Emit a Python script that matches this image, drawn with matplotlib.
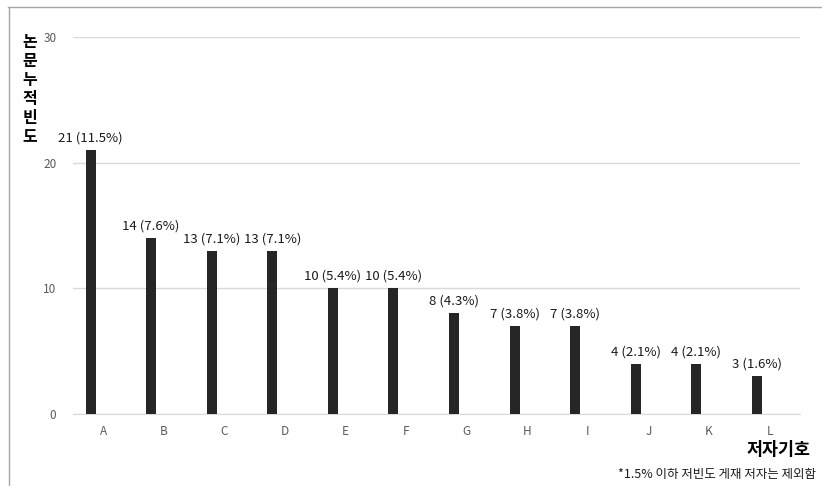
import matplotlib
matplotlib.use("Agg")
import matplotlib.pyplot as plt
from matplotlib.lines import Line2D

plt.rcParams['font.family'] = ['Noto Sans CJK KR', 'DejaVu Sans']

categories = ['A', 'B', 'C', 'D', 'E', 'F', 'G', 'H', 'I', 'J', 'K', 'L']
counts = [21, 14, 13, 13, 10, 10, 8, 7, 7, 4, 4, 3]
percents = ['11.5%', '7.6%', '7.1%', '7.1%', '5.4%', '5.4%', '4.3%', '3.8%', '3.8%', '2.1%', '2.1%', '1.6%']
yticks = [0, 10, 20, 30]
ylabel = '논문누적빈도'

fig = plt.figure(figsize=(8.22, 4.86), dpi=100)
ax = fig.add_axes([73/822, 1-414/486, (800-73)/822, (414-37)/486])

x = list(range(len(categories)))
bx = [i - 0.21 for i in x]
ax.bar(bx, counts, width=0.165, color='#262626', zorder=3)
for xi, c, p in zip(bx, counts, percents):
    ax.annotate(f'{c} ({p})', (xi, c), xytext=(0, 4), textcoords='offset points',
                ha='center', va='bottom', fontsize=9.5, color='#1a1a1a')

ax.set_xlim(-0.5, 11.5)
ax.set_ylim(0, 30)
ax.set_yticks(yticks)
ax.set_xticks(x)
ax.set_xticklabels(categories)
ax.grid(axis='y', color='#d9d9d9', linewidth=1, zorder=0)
for s in ['top', 'right', 'left']:
    ax.spines[s].set_visible(False)
ax.spines['bottom'].set_color('#d9d9d9')
ax.tick_params(axis='both', length=0, labelsize=8.5, colors='#595959')
ax.tick_params(axis='y', pad=12)
ax.tick_params(axis='x', pad=8)

for k, ch in enumerate(ylabel):
    fig.text(30/822, 1-(42 + 19*k)/486, ch, ha='center', va='center',
             fontsize=11.5, fontweight='bold')
fig.text(779/822, 1-450/486, '저자기호', ha='center', va='center',
         fontsize=12.5, fontweight='bold')
fig.text(816/822, 1-474/486, '*1.5% 이하 저빈도 게재 저자는 제외함', ha='right', va='center',
         fontsize=9, color='#1a1a1a')

fig.add_artist(Line2D([8/822, 1.0], [1-7.5/486, 1-7.5/486], transform=fig.transFigure,
                      color='#a6a6a6', linewidth=1))
fig.add_artist(Line2D([8.5/822, 8.5/822], [0, 1-7.5/486], transform=fig.transFigure,
                      color='#a6a6a6', linewidth=1))

fig.savefig('out.png', dpi=100)
